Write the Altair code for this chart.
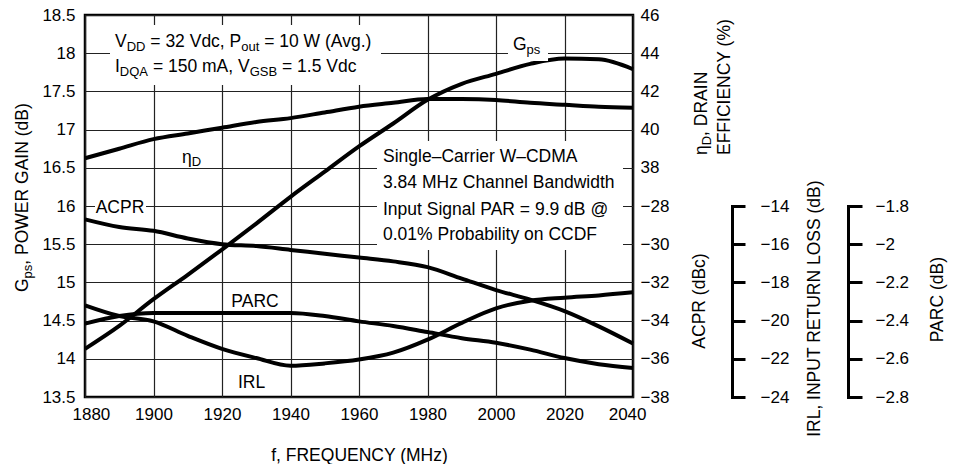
import altair as alt
import pandas as pd

# ---------------- data ----------------
freq = [1880, 1890, 1900, 1910, 1920, 1930, 1940, 1950, 1960, 1970,
        1980, 1990, 2000, 2010, 2020, 2030, 2040]
gps = [14.13, 14.43, 14.78, 15.10, 15.43, 15.77, 16.12, 16.45, 16.78, 17.08,
       17.39, 17.60, 17.73, 17.86, 17.93, 17.92, 17.79]          # dB
eff = [38.5, 39.0, 39.5, 39.8, 40.1, 40.4, 40.6, 40.9, 41.2, 41.4,
       41.6, 41.6, 41.55, 41.4, 41.3, 41.2, 41.15]                # %
acpr = [-28.7, -29.1, -29.3, -29.7, -30.0, -30.1, -30.3, -30.5, -30.7, -30.9,
        -31.2, -31.8, -32.4, -32.9, -33.5, -34.3, -35.2]           # dBc
irl = [-19.2, -19.76, -20.04, -20.8, -21.48, -21.96, -22.36, -22.24, -22.04, -21.68,
       -21.0, -20.12, -19.36, -18.96, -18.8, -18.68, -18.52]       # dB
parc = [-2.416, -2.376, -2.36, -2.36, -2.36, -2.36, -2.36, -2.376, -2.404, -2.428,
        -2.46, -2.492, -2.516, -2.552, -2.596, -2.628, -2.648]     # dB

x_ticks = [1880, 1900, 1920, 1940, 1960, 1980, 2000, 2020, 2040]
gps_ticks = [13.5, 14.0, 14.5, 15.0, 15.5, 16.0, 16.5, 17.0, 17.5, 18.0, 18.5]
eff_ticks = [38, 40, 42, 44, 46]
acpr_ticks = [-38, -36, -34, -32, -30, -28]
irl_ticks = [-24, -22, -20, -18, -16, -14]
parc_ticks = [-2.8, -2.6, -2.4, -2.2, -2.0, -1.8]

FONT = "Liberation Sans, Arial, Helvetica, sans-serif"
TICK = 17
MAIN = 17.5
SUB = 13
W_PLOT, H_PLOT = 548, 382

df = pd.DataFrame({"f": freq, "gps": gps, "eff": eff, "acpr": acpr,
                   "irl": irl, "parc": parc})
dummy = pd.DataFrame({"a": [0]})

# ---------------- text helpers ----------------
WID = {' ': 278, '!': 278, '(': 333, ')': 333, ',': 278, '-': 333, '.': 278,
       '%': 889, '=': 584, '@': 1015, '–': 556, 'η': 556}
for c in "0123456789":
    WID[c] = 556
WID.update(dict(zip("ABCDEFGHIJKLMNOPQRSTUVWXYZ",
                    [667, 667, 722, 722, 667, 611, 778, 722, 278, 500, 667, 556, 833,
                     722, 778, 667, 778, 722, 667, 611, 722, 667, 944, 667, 667, 611])))
WID.update(dict(zip("abcdefghijklmnopqrstuvwxyz",
                    [556, 556, 500, 556, 556, 278, 556, 556, 222, 222, 500, 222, 833,
                     556, 556, 556, 556, 333, 500, 278, 556, 500, 722, 500, 500, 500])))


def tw(s, size):
    return sum(WID.get(c, 556) for c in s) * size / 1000


def txt(t, x, y, size, angle=0, align="left"):
    return alt.Chart(dummy).mark_text(
        align=align, baseline="alphabetic", font=FONT, fontSize=size,
        angle=angle, color="black"
    ).encode(x=alt.value(x), y=alt.value(y), text=alt.value(t))


def run(segs, x, y, main=MAIN, sub=SUB, shift=4, angle=0, center=False):
    """Draw a run of text pieces (normal / subscript) one after another."""
    total = sum(tw(t, sub if s else main) for t, s in segs)
    out = []
    sign = 1 if angle == 0 else -1
    cur = (x - total / 2 if center else x) if angle == 0 else (y + total / 2 if center else y)
    for t, s in segs:
        size = sub if s else main
        lead = len(t) - len(t.lstrip(" "))
        start = cur + sign * tw(" ", size) * lead
        piece = t.strip(" ")
        if angle == 0:
            out.append(txt(piece, start, y + (shift if s else 0), size))
        else:
            out.append(txt(piece, x + (shift if s else 0), start, size, angle=270))
        cur += sign * tw(t, size)
    return out


def white(x1, x2, y1, y2):
    return alt.Chart(dummy).mark_rect(color="white").encode(
        x=alt.value(x1), x2=alt.value(x2), y=alt.value(y1), y2=alt.value(y2))


# ---------------- data layers ----------------
base = alt.Chart(df)
line_kw = dict(color="black", strokeWidth=4, interpolate="monotone")
lab = dict(labelFont=FONT, labelFontSize=TICK, labelColor="black", title=None)

X = alt.X("f:Q", scale=alt.Scale(domain=[1880, 2040], nice=False, zero=False),
          axis=alt.Axis(values=x_ticks, format="d", grid=True, ticks=False, domain=False,
                        gridColor="#222", gridWidth=1.2, labelPadding=9,
                        labelFlush=True, labelFlushOffset=13,
                        labelFont=FONT, labelFontSize=TICK, labelColor="black",
                        title="f, FREQUENCY (MHz)", titleFont=FONT, titleFontSize=MAIN,
                        titleFontWeight="normal", titleColor="black", titlePadding=24))

g_layer = base.mark_line(**line_kw).encode(
    x=X,
    y=alt.Y("gps:Q", scale=alt.Scale(domain=[13.5, 18.5], nice=False, zero=False),
            axis=alt.Axis(orient="left", values=gps_ticks, format="~g", grid=True,
                          gridColor="#222", gridWidth=1.2, ticks=False, domain=False,
                          labelPadding=10, **lab)))

eff_layer = base.mark_line(**line_kw).encode(
    x=X,
    y=alt.Y("eff:Q", scale=alt.Scale(domain=[26, 46], nice=False, zero=False),
            axis=alt.Axis(orient="right", values=eff_ticks, format="d", grid=False,
                          ticks=False, domain=False, labelPadding=7, **lab)))

acpr_layer = base.mark_line(**line_kw).encode(
    x=X,
    y=alt.Y("acpr:Q", scale=alt.Scale(domain=[-38, -18], nice=False, zero=False),
            axis=alt.Axis(orient="right", values=acpr_ticks, format="d", grid=False,
                          ticks=False, domain=False, labelPadding=7, **lab)))

bracket = dict(grid=False, ticks=True, domain=True, tickColor="black", domainColor="black",
               tickWidth=3, domainWidth=3, domainCap="square")

irl_layer = base.mark_line(**line_kw).encode(
    x=X,
    y=alt.Y("irl:Q", scale=alt.Scale(domain=[-24, -14], range=[H_PLOT, 191], nice=False, zero=False),
            axis=alt.Axis(orient="right", offset=99, values=irl_ticks, format="~g",
                          tickSize=13, labelPadding=15, **bracket, **lab)))

parc_layer = base.mark_line(**line_kw).encode(
    x=X,
    y=alt.Y("parc:Q", scale=alt.Scale(domain=[-2.8, -1.8], range=[H_PLOT, 191], nice=False, zero=False),
            axis=alt.Axis(orient="right", offset=215, values=parc_ticks, format="~g",
                          tickSize=14, labelPadding=13, **bracket, **lab)))

# ---------------- annotations ----------------
ann = [
    white(25, 296, 10, 70),
    white(292, 538, 126, 235),
    white(423, 463, 24, 46),
    white(10, 61, 181, 199),
]
ann += run([("V", 0), ("DD", 1), (" = 32 Vdc, P", 0), ("out", 1), (" = 10 W (Avg.)", 0)], 30, 32)
ann += run([("I", 0), ("DQA", 1), (" = 150 mA, V", 0), ("GSB", 1), (" = 1.5 Vdc", 0)], 30, 56.7)
for i, line in enumerate(["Single–Carrier W–CDMA", "3.84 MHz Channel Bandwidth",
                          "Input Signal PAR = 9.9 dB @", "0.01% Probability on CCDF"]):
    ann.append(txt(line, 298, [146.7, 173.3, 200, 225][i], MAIN))
ann += run([("G", 0), ("ps", 1)], 428, 35)
ann += run([("η", 0), ("D", 1)], 97, 148, shift=3)
ann.append(txt("ACPR", 35, 198, MAIN, align="center"))
ann.append(txt("PARC", 170, 292, MAIN, align="center"))
ann.append(txt("IRL", 166.5, 373, MAIN, align="center"))

# rotated axis titles
ann += run([("G", 0), ("ps", 1), (", POWER GAIN (dB)", 0)], -57, 277, angle=270)
ann += run([("η", 0), ("D", 1), (", DRAIN", 0)], 622, 140, angle=270)
ann += run([("EFFICIENCY (%)", 0)], 645, 140, angle=270)
ann += run([("ACPR (dBc)", 0)], 620, 286, angle=270, center=True)
ann += run([("IRL, INPUT RETURN LOSS (dB)", 0)], 735, 293.5, angle=270, center=True)
ann += run([("PARC (dB)", 0)], 858, 284, angle=270, center=True)

chart = alt.layer(
    g_layer, eff_layer, acpr_layer, irl_layer, parc_layer, *ann
).resolve_scale(y="independent").properties(
    width=W_PLOT, height=H_PLOT,
    autosize=alt.AutoSizeParams(type="none"),
    padding={"left": 77, "top": 7, "right": 316, "bottom": 67},
    background="white",
).configure_view(stroke="black", strokeWidth=2.5)

chart.save("out.html", embed_options={"renderer": "svg", "actions": False})
